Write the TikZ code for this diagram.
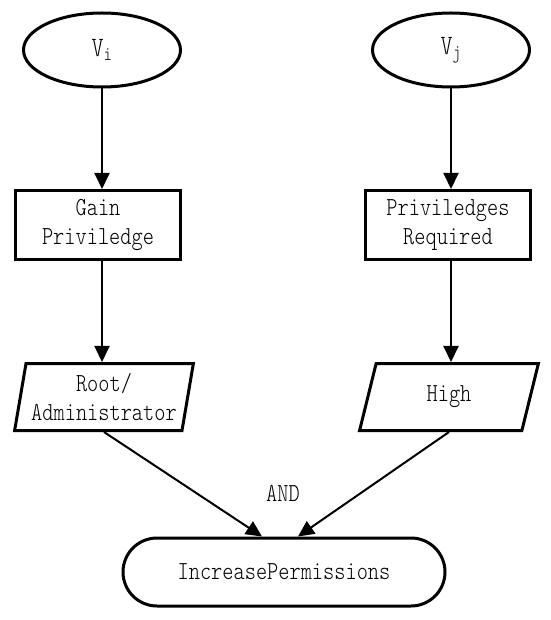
\documentclass[tikz,border=0pt]{standalone}
\usepackage{fontspec}
\newfontfamily\flowfont{lmmonolt10-regular.otf}[FakeStretch=0.82]
\usetikzlibrary{arrows.meta,shapes.geometric,shapes.misc}

\begin{document}
\begin{tikzpicture}[x=1pt,y=-1pt,
    every node/.style={font=\flowfont\fontsize{26}{29}\selectfont, align=center},
    shp/.style={draw, line width=3pt, inner sep=2pt},
    evt/.style={shp, ellipse, minimum width=157pt, minimum height=74pt,
      font=\flowfont\fontsize{28}{30}\selectfont},
    blk/.style={shp, rectangle, minimum width=165pt, minimum height=69pt},
    dat/.style={shp, trapezium, trapezium left angle=78, trapezium right angle=102,
      trapezium stretches=true, minimum width=179pt, minimum height=67pt},
    res/.style={shp, rounded rectangle, minimum width=326pt, minimum height=68pt},
    con/.style={line width=2pt, -{Triangle[length=16pt,width=15pt]}}]
  \useasboundingbox (0,0) rectangle (550,620);
%  \draw [help lines] (0,0) grid (550,620);

  % left chain
  \node [evt] (vi) at (102,50) {V\textsubscript{i}};
  \node [blk] (gain) at (98,225) {Gain\\Priviledge};
  \node [dat] (root) at (104,397) {Root/\\Administrator};

  % right chain
  \node [evt] (vj) at (451,50) {V\textsubscript{j}};
  \node [blk] (req) at (448,225) {Priviledges\\Required};
  \node [dat] (high) at (449,397) {High};

  % result
  \node [res] (incr) at (284,572) {IncreasePermissions};
  \node (and) at (283,493) {AND};
  \coordinate (inL) at ([xshift=-22pt]incr.north);
  \coordinate (inR) at ([xshift=14pt]incr.north);

  \draw [con] (vi.south) -- (vi.south |- gain.north);
  \draw [con] (gain.south -| vi) -- (root.north -| vi);
  \draw [con] (vj.south) -- (vj.south |- req.north);
  \draw [con] (req.south -| vj) -- (high.north -| vj);
  \draw [con] (root.south) -- (inL);
  \draw [con] (high.south) -- (inR);
\end{tikzpicture}
\end{document}
